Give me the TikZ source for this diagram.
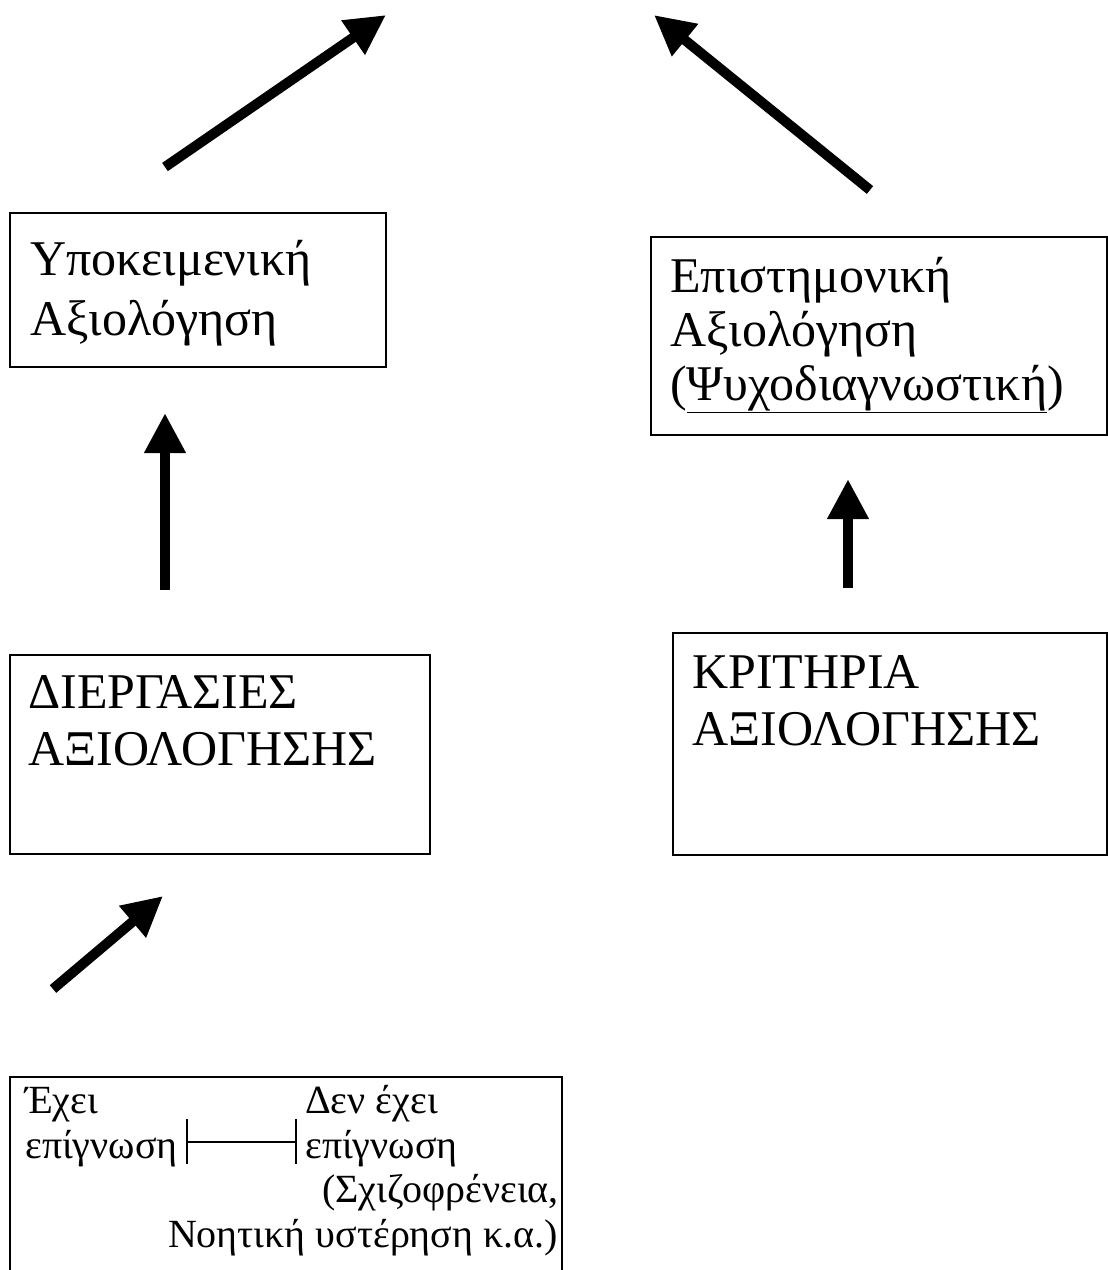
\documentclass[tikz,border=0pt]{standalone}
\usepackage{fontspec}
\setmainfont{Liberation Serif}
\usetikzlibrary{arrows.meta}

\begin{document}
\begin{tikzpicture}[x=1pt, y=-1pt,
    box/.style={line width=1.3pt},
    bigtext/.style={anchor=base west, inner sep=0pt, font=\fontsize{50}{58}\selectfont},
    smalltext/.style={inner sep=0pt, font=\fontsize{40}{45}\selectfont},
    bigarrow/.style={line width=10pt, -{Triangle[length=40pt,width=39pt]}}]
  \useasboundingbox (0,0) rectangle (1108,1270);

  % ===== Υποκειμενική αξιολόγηση =====
  \draw[box] (10,213) rectangle (386,367);
  \node[bigtext] (ypok1) at (30,275) {Υποκειμενική};
  \node[bigtext] (ypok2) at (30,335) {Αξιολόγηση};

  % ===== Επιστημονική αξιολόγηση =====
  \draw[box] (651,237) rectangle (1107,435);
  \node[bigtext] (epist1) at (670,292) {Επιστημονική};
  \node[bigtext] (epist2) at (670,346) {Αξιολόγηση};
  \node[bigtext] (epist3) at (670,400) {(\underline{Ψυχοδιαγνωστική})};

  % ===== Διεργασίες =====
  \draw[box] (10,655) rectangle (430,854);
  \node[bigtext] (dierg1) at (28,708) {ΔΙΕΡΓΑΣΙΕΣ};
  \node[bigtext] (dierg2) at (28,765) {ΑΞΙΟΛΟΓΗΣΗΣ};

  % ===== Κριτήρια =====
  \draw[box] (673,633) rectangle (1107,855);
  \node[bigtext] (krit1) at (692,688) {ΚΡΙΤΗΡΙΑ};
  \node[bigtext] (krit2) at (692,745) {ΑΞΙΟΛΟΓΗΣΗΣ};

  % ===== Επίγνωση (κάτω) =====
  \draw[box] (10,1077) rectangle (562,1290);
  \node[smalltext, anchor=base west] (exei1) at (25,1113) {Έχει};
  \node[smalltext, anchor=base west] (exei2) at (25,1158) {επίγνωση};
  \node[smalltext, anchor=base west] (den1) at (305,1113) {Δεν έχει};
  \node[smalltext, anchor=base west] (den2) at (305,1158) {επίγνωση};
  \node[smalltext, anchor=base east] (den3) at (559,1202) {(Σχιζοφρένεια,};
  \node[smalltext, anchor=base east] (den4) at (558,1247) {Νοητική υστέρηση κ.α.)};

  % κλίμακα
  \coordinate (barl) at (187,1142);
  \coordinate (barr) at (296,1142);
  \draw[line width=1.3pt] (barl) -- (barr);
  \draw[line width=1.3pt] ([yshift=-22pt]barl) -- ([yshift=23pt]barl);
  \draw[line width=1.3pt] ([yshift=-22pt]barr) -- ([yshift=23pt]barr);

  % ===== Βέλη =====
  \coordinate (a1s) at (165,167);
  \coordinate (a1e) at (386,15);
  \coordinate (a2s) at (870,190);
  \coordinate (a2e) at (654,15);
  \coordinate (a3s) at (165,590);
  \coordinate (a3e) at (165,413);
  \coordinate (a4s) at (848,588);
  \coordinate (a4e) at (848,479);
  \coordinate (a5s) at (53,989);
  \coordinate (a5e) at (163,896);
  \draw[bigarrow] (a1s) -- (a1e);
  \draw[bigarrow] (a2s) -- (a2e);
  \draw[bigarrow] (a3s) -- (a3e);
  \draw[bigarrow] (a4s) -- (a4e);
  \draw[bigarrow] (a5s) -- (a5e);
\end{tikzpicture}
\end{document}
